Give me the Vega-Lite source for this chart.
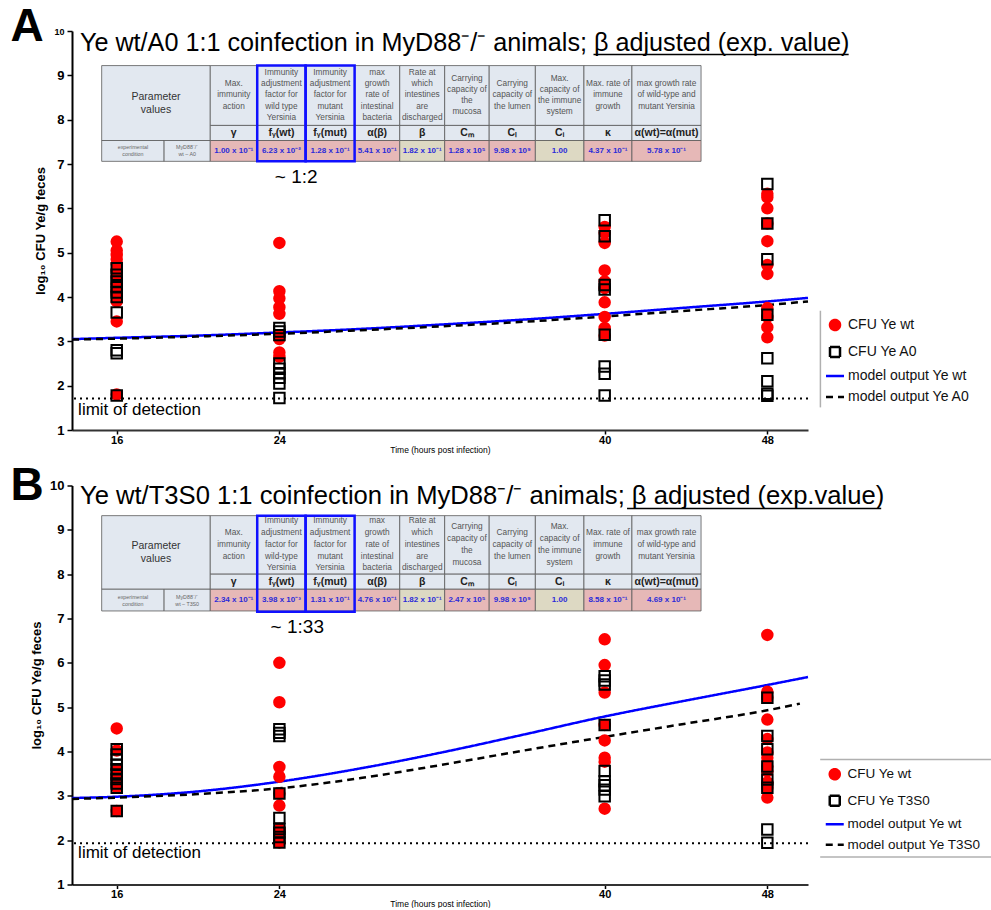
{
"$schema": "https://vega.github.io/schema/vega-lite/v6.json",
"background": "white",
"padding": {"left": 10, "top": 3, "right": 0, "bottom": 0},
"spacing": 8.5,
"datasets": {
"tableA": [
{"row":"param","c0":15.26,"c1":20.6,"cx":17.93,"r0":7.53,"r1":9.22,"cy":8.522,"kind":"hdr","txt":"Parameter|values"},
{"row":"cond","c0":15.26,"c1":18.33,"cx":16.795,"r0":7.06,"r1":7.53,"cy":7.374,"kind":"hdr","txt":"experimental|condition"},
{"row":"cond","c0":18.33,"c1":20.6,"cx":19.465,"r0":7.06,"r1":7.53,"cy":7.374,"kind":"hdr","txt":"MyD88⁻/⁻|wt – A0"},
{"row":"head","c0":20.6,"c1":22.91,"cx":21.755,"r0":7.87,"r1":9.22,"cy":8.8,"kind":"hdr","txt":"Max.|immunity|action"},
{"row":"head","c0":22.91,"c1":25.29,"cx":24.1,"r0":7.87,"r1":9.22,"cy":9.055,"kind":"hdr","txt":"Immunity|adjustment|factor for|wild type|Yersinia"},
{"row":"head","c0":25.29,"c1":27.7,"cx":26.495,"r0":7.87,"r1":9.22,"cy":9.055,"kind":"hdr","txt":"Immunity|adjustment|factor for|mutant|Yersinia"},
{"row":"head","c0":27.7,"c1":29.92,"cx":28.81,"r0":7.87,"r1":9.22,"cy":9.055,"kind":"hdr","txt":"max|growth|rate of|intestinal|bacteria"},
{"row":"head","c0":29.92,"c1":32.13,"cx":31.025,"r0":7.87,"r1":9.22,"cy":9.055,"kind":"hdr","txt":"Rate at|which|intestines|are|discharged"},
{"row":"head","c0":32.13,"c1":34.32,"cx":33.225,"r0":7.87,"r1":9.22,"cy":8.928,"kind":"hdr","txt":"Carrying|capacity of|the|mucosa"},
{"row":"head","c0":34.32,"c1":36.59,"cx":35.455,"r0":7.87,"r1":9.22,"cy":8.8,"kind":"hdr","txt":"Carrying|capacity of|the lumen"},
{"row":"head","c0":36.59,"c1":38.98,"cx":37.785,"r0":7.87,"r1":9.22,"cy":8.928,"kind":"hdr","txt":"Max.|capacity of|the immune|system"},
{"row":"head","c0":38.98,"c1":41.34,"cx":40.16,"r0":7.87,"r1":9.22,"cy":8.8,"kind":"hdr","txt":"Max. rate of|immune|growth"},
{"row":"head","c0":41.34,"c1":44.74,"cx":43.04,"r0":7.87,"r1":9.22,"cy":8.8,"kind":"hdr","txt":"max growth rate|of wild-type and|mutant Yersinia"},
{"row":"sym","c0":20.6,"c1":22.91,"cx":21.755,"r0":7.53,"r1":7.87,"cy":7.7,"kind":"hdr","txt":"γ"},
{"row":"sym","c0":22.91,"c1":25.29,"cx":24.1,"r0":7.53,"r1":7.87,"cy":7.7,"kind":"hdr","txt":"fᵧ(wt)"},
{"row":"sym","c0":25.29,"c1":27.7,"cx":26.495,"r0":7.53,"r1":7.87,"cy":7.7,"kind":"hdr","txt":"fᵧ(mut)"},
{"row":"sym","c0":27.7,"c1":29.92,"cx":28.81,"r0":7.53,"r1":7.87,"cy":7.7,"kind":"hdr","txt":"α(β)"},
{"row":"sym","c0":29.92,"c1":32.13,"cx":31.025,"r0":7.53,"r1":7.87,"cy":7.7,"kind":"hdr","txt":"β"},
{"row":"sym","c0":32.13,"c1":34.32,"cx":33.225,"r0":7.53,"r1":7.87,"cy":7.7,"kind":"hdr","txt":"Cₘ"},
{"row":"sym","c0":34.32,"c1":36.59,"cx":35.455,"r0":7.53,"r1":7.87,"cy":7.7,"kind":"hdr","txt":"Cₗ"},
{"row":"sym","c0":36.59,"c1":38.98,"cx":37.785,"r0":7.53,"r1":7.87,"cy":7.7,"kind":"hdr","txt":"Cᵢ"},
{"row":"sym","c0":38.98,"c1":41.34,"cx":40.16,"r0":7.53,"r1":7.87,"cy":7.7,"kind":"hdr","txt":"κ"},
{"row":"sym","c0":41.34,"c1":44.74,"cx":43.04,"r0":7.53,"r1":7.87,"cy":7.7,"kind":"hdr","txt":"α(wt)=α(mut)"},
{"row":"val","c0":20.6,"c1":22.91,"cx":21.755,"r0":7.06,"r1":7.53,"cy":7.295,"kind":"pink","txt":"1.00 x 10⁻¹"},
{"row":"val","c0":22.91,"c1":25.29,"cx":24.1,"r0":7.06,"r1":7.53,"cy":7.295,"kind":"pink","txt":"6.23 x 10⁻²"},
{"row":"val","c0":25.29,"c1":27.7,"cx":26.495,"r0":7.06,"r1":7.53,"cy":7.295,"kind":"pink","txt":"1.28 x 10⁻¹"},
{"row":"val","c0":27.7,"c1":29.92,"cx":28.81,"r0":7.06,"r1":7.53,"cy":7.295,"kind":"pink","txt":"5.41 x 10⁻¹"},
{"row":"val","c0":29.92,"c1":32.13,"cx":31.025,"r0":7.06,"r1":7.53,"cy":7.295,"kind":"beige","txt":"1.82 x 10⁻¹"},
{"row":"val","c0":32.13,"c1":34.32,"cx":33.225,"r0":7.06,"r1":7.53,"cy":7.295,"kind":"pink","txt":"1.28 x 10⁵"},
{"row":"val","c0":34.32,"c1":36.59,"cx":35.455,"r0":7.06,"r1":7.53,"cy":7.295,"kind":"pink","txt":"9.98 x 10⁹"},
{"row":"val","c0":36.59,"c1":38.98,"cx":37.785,"r0":7.06,"r1":7.53,"cy":7.295,"kind":"beige","txt":"1.00"},
{"row":"val","c0":38.98,"c1":41.34,"cx":40.16,"r0":7.06,"r1":7.53,"cy":7.295,"kind":"pink","txt":"4.37 x 10⁻¹"},
{"row":"val","c0":41.34,"c1":44.74,"cx":43.04,"r0":7.06,"r1":7.53,"cy":7.295,"kind":"pink","txt":"5.78 x 10⁻¹"},
{"row":"blue","c0":22.91,"c1":25.29,"r0":7.06,"r1":9.22},
{"row":"blue","c0":25.29,"c1":27.7,"r0":7.06,"r1":9.22}
],
"tableB": [
{"row":"param","c0":15.26,"c1":20.6,"cx":17.93,"r0":7.66,"r1":9.32,"cy":8.637,"kind":"hdr","txt":"Parameter|values"},
{"row":"cond","c0":15.26,"c1":18.33,"cx":16.795,"r0":7.17,"r1":7.66,"cy":7.494,"kind":"hdr","txt":"experimental|condition"},
{"row":"cond","c0":18.33,"c1":20.6,"cx":19.465,"r0":7.17,"r1":7.66,"cy":7.494,"kind":"hdr","txt":"MyD88⁻/⁻|wt – T3S0"},
{"row":"head","c0":20.6,"c1":22.91,"cx":21.755,"r0":8.0,"r1":9.32,"cy":8.926,"kind":"hdr","txt":"Max.|immunity|action"},
{"row":"head","c0":22.91,"c1":25.29,"cx":24.1,"r0":8.0,"r1":9.32,"cy":9.193,"kind":"hdr","txt":"Immunity|adjustment|factor for|wild-type|Yersinia"},
{"row":"head","c0":25.29,"c1":27.7,"cx":26.495,"r0":8.0,"r1":9.32,"cy":9.193,"kind":"hdr","txt":"Immunity|adjustment|factor for|mutant|Yersinia"},
{"row":"head","c0":27.7,"c1":29.92,"cx":28.81,"r0":8.0,"r1":9.32,"cy":9.193,"kind":"hdr","txt":"max|growth|rate of|intestinal|bacteria"},
{"row":"head","c0":29.92,"c1":32.13,"cx":31.025,"r0":8.0,"r1":9.32,"cy":9.193,"kind":"hdr","txt":"Rate at|which|intestines|are|discharged"},
{"row":"head","c0":32.13,"c1":34.32,"cx":33.225,"r0":8.0,"r1":9.32,"cy":9.06,"kind":"hdr","txt":"Carrying|capacity of|the|mucosa"},
{"row":"head","c0":34.32,"c1":36.59,"cx":35.455,"r0":8.0,"r1":9.32,"cy":8.926,"kind":"hdr","txt":"Carrying|capacity of|the lumen"},
{"row":"head","c0":36.59,"c1":38.98,"cx":37.785,"r0":8.0,"r1":9.32,"cy":9.06,"kind":"hdr","txt":"Max.|capacity of|the immune|system"},
{"row":"head","c0":38.98,"c1":41.34,"cx":40.16,"r0":8.0,"r1":9.32,"cy":8.926,"kind":"hdr","txt":"Max. rate of|immune|growth"},
{"row":"head","c0":41.34,"c1":44.74,"cx":43.04,"r0":8.0,"r1":9.32,"cy":8.926,"kind":"hdr","txt":"max growth rate|of wild-type and|mutant Yersinia"},
{"row":"sym","c0":20.6,"c1":22.91,"cx":21.755,"r0":7.66,"r1":8.0,"cy":7.83,"kind":"hdr","txt":"γ"},
{"row":"sym","c0":22.91,"c1":25.29,"cx":24.1,"r0":7.66,"r1":8.0,"cy":7.83,"kind":"hdr","txt":"fᵧ(wt)"},
{"row":"sym","c0":25.29,"c1":27.7,"cx":26.495,"r0":7.66,"r1":8.0,"cy":7.83,"kind":"hdr","txt":"fᵧ(mut)"},
{"row":"sym","c0":27.7,"c1":29.92,"cx":28.81,"r0":7.66,"r1":8.0,"cy":7.83,"kind":"hdr","txt":"α(β)"},
{"row":"sym","c0":29.92,"c1":32.13,"cx":31.025,"r0":7.66,"r1":8.0,"cy":7.83,"kind":"hdr","txt":"β"},
{"row":"sym","c0":32.13,"c1":34.32,"cx":33.225,"r0":7.66,"r1":8.0,"cy":7.83,"kind":"hdr","txt":"Cₘ"},
{"row":"sym","c0":34.32,"c1":36.59,"cx":35.455,"r0":7.66,"r1":8.0,"cy":7.83,"kind":"hdr","txt":"Cₗ"},
{"row":"sym","c0":36.59,"c1":38.98,"cx":37.785,"r0":7.66,"r1":8.0,"cy":7.83,"kind":"hdr","txt":"Cᵢ"},
{"row":"sym","c0":38.98,"c1":41.34,"cx":40.16,"r0":7.66,"r1":8.0,"cy":7.83,"kind":"hdr","txt":"κ"},
{"row":"sym","c0":41.34,"c1":44.74,"cx":43.04,"r0":7.66,"r1":8.0,"cy":7.83,"kind":"hdr","txt":"α(wt)=α(mut)"},
{"row":"val","c0":20.6,"c1":22.91,"cx":21.755,"r0":7.17,"r1":7.66,"cy":7.415,"kind":"pink","txt":"2.34 x 10⁻¹"},
{"row":"val","c0":22.91,"c1":25.29,"cx":24.1,"r0":7.17,"r1":7.66,"cy":7.415,"kind":"pink","txt":"3.98 x 10⁻³"},
{"row":"val","c0":25.29,"c1":27.7,"cx":26.495,"r0":7.17,"r1":7.66,"cy":7.415,"kind":"pink","txt":"1.31 x 10⁻¹"},
{"row":"val","c0":27.7,"c1":29.92,"cx":28.81,"r0":7.17,"r1":7.66,"cy":7.415,"kind":"pink","txt":"4.76 x 10⁻¹"},
{"row":"val","c0":29.92,"c1":32.13,"cx":31.025,"r0":7.17,"r1":7.66,"cy":7.415,"kind":"beige","txt":"1.82 x 10⁻¹"},
{"row":"val","c0":32.13,"c1":34.32,"cx":33.225,"r0":7.17,"r1":7.66,"cy":7.415,"kind":"pink","txt":"2.47 x 10⁵"},
{"row":"val","c0":34.32,"c1":36.59,"cx":35.455,"r0":7.17,"r1":7.66,"cy":7.415,"kind":"pink","txt":"9.98 x 10⁹"},
{"row":"val","c0":36.59,"c1":38.98,"cx":37.785,"r0":7.17,"r1":7.66,"cy":7.415,"kind":"beige","txt":"1.00"},
{"row":"val","c0":38.98,"c1":41.34,"cx":40.16,"r0":7.17,"r1":7.66,"cy":7.415,"kind":"pink","txt":"8.58 x 10⁻¹"},
{"row":"val","c0":41.34,"c1":44.74,"cx":43.04,"r0":7.17,"r1":7.66,"cy":7.415,"kind":"pink","txt":"4.69 x 10⁻¹"},
{"row":"blue","c0":22.91,"c1":25.29,"r0":7.15,"r1":9.32},
{"row":"blue","c0":25.29,"c1":27.7,"r0":7.15,"r1":9.32}
],
"pointsA": [
{"t":16,"v":5.25,"series":"CFU Ye wt"},{"t":16,"v":5.05,"series":"CFU Ye wt"},{"t":16,"v":4.95,"series":"CFU Ye wt"},{"t":16,"v":4.85,"series":"CFU Ye wt"},{"t":16,"v":4.75,"series":"CFU Ye wt"},{"t":16,"v":4.6,"series":"CFU Ye wt"},{"t":16,"v":4.45,"series":"CFU Ye wt"},{"t":16,"v":4.3,"series":"CFU Ye wt"},{"t":16,"v":4.15,"series":"CFU Ye wt"},{"t":16,"v":4.05,"series":"CFU Ye wt"},{"t":16,"v":3.9,"series":"CFU Ye wt"},{"t":16,"v":3.45,"series":"CFU Ye wt"},{"t":16,"v":1.8,"series":"CFU Ye wt"},
{"t":24,"v":5.22,"series":"CFU Ye wt"},{"t":24,"v":4.13,"series":"CFU Ye wt"},{"t":24,"v":3.97,"series":"CFU Ye wt"},{"t":24,"v":3.77,"series":"CFU Ye wt"},{"t":24,"v":3.62,"series":"CFU Ye wt"},{"t":24,"v":3.12,"series":"CFU Ye wt"},{"t":24,"v":3.05,"series":"CFU Ye wt"},{"t":24,"v":2.75,"series":"CFU Ye wt"},{"t":24,"v":2.65,"series":"CFU Ye wt"},
{"t":40,"v":5.58,"series":"CFU Ye wt"},{"t":40,"v":5.45,"series":"CFU Ye wt"},{"t":40,"v":5.22,"series":"CFU Ye wt"},{"t":40,"v":4.6,"series":"CFU Ye wt"},{"t":40,"v":4.35,"series":"CFU Ye wt"},{"t":40,"v":4.2,"series":"CFU Ye wt"},{"t":40,"v":3.88,"series":"CFU Ye wt"},{"t":40,"v":3.55,"series":"CFU Ye wt"},{"t":40,"v":3.3,"series":"CFU Ye wt"},{"t":40,"v":3.13,"series":"CFU Ye wt"},
{"t":48,"v":6.33,"series":"CFU Ye wt"},{"t":48,"v":6.25,"series":"CFU Ye wt"},{"t":48,"v":6.0,"series":"CFU Ye wt"},{"t":48,"v":5.66,"series":"CFU Ye wt"},{"t":48,"v":5.26,"series":"CFU Ye wt"},{"t":48,"v":4.72,"series":"CFU Ye wt"},{"t":48,"v":4.52,"series":"CFU Ye wt"},{"t":48,"v":3.75,"series":"CFU Ye wt"},{"t":48,"v":3.55,"series":"CFU Ye wt"},{"t":48,"v":3.32,"series":"CFU Ye wt"},{"t":48,"v":3.09,"series":"CFU Ye wt"},
{"t":16,"v":4.65,"series":"CFU Ye A0"},{"t":16,"v":4.5,"series":"CFU Ye A0"},{"t":16,"v":4.35,"series":"CFU Ye A0"},{"t":16,"v":4.22,"series":"CFU Ye A0"},{"t":16,"v":4.1,"series":"CFU Ye A0"},{"t":16,"v":4.0,"series":"CFU Ye A0"},{"t":16,"v":3.65,"series":"CFU Ye A0"},{"t":16,"v":2.8,"series":"CFU Ye A0"},{"t":16,"v":2.73,"series":"CFU Ye A0"},{"t":16,"v":1.78,"series":"CFU Ye A0"},
{"t":24,"v":3.3,"series":"CFU Ye A0"},{"t":24,"v":3.22,"series":"CFU Ye A0"},{"t":24,"v":3.14,"series":"CFU Ye A0"},{"t":24,"v":2.5,"series":"CFU Ye A0"},{"t":24,"v":2.38,"series":"CFU Ye A0"},{"t":24,"v":2.28,"series":"CFU Ye A0"},{"t":24,"v":2.18,"series":"CFU Ye A0"},{"t":24,"v":2.05,"series":"CFU Ye A0"},{"t":24,"v":1.72,"series":"CFU Ye A0"},
{"t":40,"v":5.73,"series":"CFU Ye A0"},{"t":40,"v":5.37,"series":"CFU Ye A0"},{"t":40,"v":4.27,"series":"CFU Ye A0"},{"t":40,"v":4.17,"series":"CFU Ye A0"},{"t":40,"v":3.15,"series":"CFU Ye A0"},{"t":40,"v":2.43,"series":"CFU Ye A0"},{"t":40,"v":2.27,"series":"CFU Ye A0"},{"t":40,"v":1.78,"series":"CFU Ye A0"},
{"t":48,"v":6.55,"series":"CFU Ye A0"},{"t":48,"v":5.66,"series":"CFU Ye A0"},{"t":48,"v":4.85,"series":"CFU Ye A0"},{"t":48,"v":3.6,"series":"CFU Ye A0"},{"t":48,"v":2.62,"series":"CFU Ye A0"},{"t":48,"v":2.1,"series":"CFU Ye A0"},{"t":48,"v":1.82,"series":"CFU Ye A0"},{"t":48,"v":1.77,"series":"CFU Ye A0"}
],
"pointsB": [
{"t":16,"v":4.52,"series":"CFU Ye wt"},{"t":16,"v":4.02,"series":"CFU Ye wt"},{"t":16,"v":3.6,"series":"CFU Ye wt"},{"t":16,"v":3.45,"series":"CFU Ye wt"},{"t":16,"v":3.38,"series":"CFU Ye wt"},{"t":16,"v":3.2,"series":"CFU Ye wt"},{"t":16,"v":2.66,"series":"CFU Ye wt"},
{"t":24,"v":6.0,"series":"CFU Ye wt"},{"t":24,"v":5.11,"series":"CFU Ye wt"},{"t":24,"v":3.65,"series":"CFU Ye wt"},{"t":24,"v":3.43,"series":"CFU Ye wt"},{"t":24,"v":3.05,"series":"CFU Ye wt"},{"t":24,"v":2.78,"series":"CFU Ye wt"},{"t":24,"v":2.25,"series":"CFU Ye wt"},{"t":24,"v":2.18,"series":"CFU Ye wt"},{"t":24,"v":1.95,"series":"CFU Ye wt"},
{"t":40,"v":6.53,"series":"CFU Ye wt"},{"t":40,"v":5.95,"series":"CFU Ye wt"},{"t":40,"v":5.33,"series":"CFU Ye wt"},{"t":40,"v":4.6,"series":"CFU Ye wt"},{"t":40,"v":4.25,"series":"CFU Ye wt"},{"t":40,"v":3.86,"series":"CFU Ye wt"},{"t":40,"v":3.77,"series":"CFU Ye wt"},{"t":40,"v":2.71,"series":"CFU Ye wt"},
{"t":48,"v":6.63,"series":"CFU Ye wt"},{"t":48,"v":5.35,"series":"CFU Ye wt"},{"t":48,"v":5.22,"series":"CFU Ye wt"},{"t":48,"v":4.72,"series":"CFU Ye wt"},{"t":48,"v":4.28,"series":"CFU Ye wt"},{"t":48,"v":3.98,"series":"CFU Ye wt"},{"t":48,"v":3.86,"series":"CFU Ye wt"},{"t":48,"v":3.66,"series":"CFU Ye wt"},{"t":48,"v":3.55,"series":"CFU Ye wt"},{"t":48,"v":3.3,"series":"CFU Ye wt"},{"t":48,"v":3.18,"series":"CFU Ye wt"},{"t":48,"v":2.96,"series":"CFU Ye wt"},
{"t":16,"v":4.05,"series":"CFU Ye T3S0"},{"t":16,"v":3.93,"series":"CFU Ye T3S0"},{"t":16,"v":3.82,"series":"CFU Ye T3S0"},{"t":16,"v":3.7,"series":"CFU Ye T3S0"},{"t":16,"v":3.6,"series":"CFU Ye T3S0"},{"t":16,"v":3.48,"series":"CFU Ye T3S0"},{"t":16,"v":3.38,"series":"CFU Ye T3S0"},{"t":16,"v":3.28,"series":"CFU Ye T3S0"},{"t":16,"v":3.18,"series":"CFU Ye T3S0"},{"t":16,"v":2.66,"series":"CFU Ye T3S0"},
{"t":24,"v":4.5,"series":"CFU Ye T3S0"},{"t":24,"v":4.42,"series":"CFU Ye T3S0"},{"t":24,"v":4.35,"series":"CFU Ye T3S0"},{"t":24,"v":3.05,"series":"CFU Ye T3S0"},{"t":24,"v":2.5,"series":"CFU Ye T3S0"},{"t":24,"v":2.25,"series":"CFU Ye T3S0"},{"t":24,"v":2.17,"series":"CFU Ye T3S0"},{"t":24,"v":2.07,"series":"CFU Ye T3S0"},{"t":24,"v":1.95,"series":"CFU Ye T3S0"},
{"t":40,"v":5.7,"series":"CFU Ye T3S0"},{"t":40,"v":5.6,"series":"CFU Ye T3S0"},{"t":40,"v":5.51,"series":"CFU Ye T3S0"},{"t":40,"v":4.6,"series":"CFU Ye T3S0"},{"t":40,"v":3.56,"series":"CFU Ye T3S0"},{"t":40,"v":3.33,"series":"CFU Ye T3S0"},{"t":40,"v":3.24,"series":"CFU Ye T3S0"},{"t":40,"v":3.14,"series":"CFU Ye T3S0"},{"t":40,"v":2.99,"series":"CFU Ye T3S0"},
{"t":48,"v":5.21,"series":"CFU Ye T3S0"},{"t":48,"v":4.35,"series":"CFU Ye T3S0"},{"t":48,"v":4.05,"series":"CFU Ye T3S0"},{"t":48,"v":3.66,"series":"CFU Ye T3S0"},{"t":48,"v":3.37,"series":"CFU Ye T3S0"},{"t":48,"v":3.18,"series":"CFU Ye T3S0"},{"t":48,"v":2.24,"series":"CFU Ye T3S0"},{"t":48,"v":1.94,"series":"CFU Ye T3S0"}
],
"modelA": [
{"t":13.8,"v":3.05,"series":"model output Ye wt"},{"t":16,"v":3.08,"series":"model output Ye wt"},{"t":20,"v":3.13,"series":"model output Ye wt"},{"t":24,"v":3.2,"series":"model output Ye wt"},{"t":28,"v":3.28,"series":"model output Ye wt"},{"t":32,"v":3.38,"series":"model output Ye wt"},{"t":36,"v":3.49,"series":"model output Ye wt"},{"t":40,"v":3.62,"series":"model output Ye wt"},{"t":44,"v":3.76,"series":"model output Ye wt"},{"t":48,"v":3.9,"series":"model output Ye wt"},{"t":50,"v":3.98,"series":"model output Ye wt"},
{"t":13.8,"v":3.04,"series":"model output Ye A0"},{"t":16,"v":3.06,"series":"model output Ye A0"},{"t":20,"v":3.11,"series":"model output Ye A0"},{"t":24,"v":3.17,"series":"model output Ye A0"},{"t":28,"v":3.25,"series":"model output Ye A0"},{"t":32,"v":3.34,"series":"model output Ye A0"},{"t":36,"v":3.44,"series":"model output Ye A0"},{"t":40,"v":3.56,"series":"model output Ye A0"},{"t":44,"v":3.69,"series":"model output Ye A0"},{"t":48,"v":3.82,"series":"model output Ye A0"},{"t":50,"v":3.9,"series":"model output Ye A0"}
],
"modelB": [
{"t":13.8,"v":2.95,"series":"model output Ye wt"},{"t":16,"v":2.98,"series":"model output Ye wt"},{"t":20,"v":3.1,"series":"model output Ye wt"},{"t":24,"v":3.32,"series":"model output Ye wt"},{"t":28,"v":3.62,"series":"model output Ye wt"},{"t":32,"v":3.98,"series":"model output Ye wt"},{"t":36,"v":4.38,"series":"model output Ye wt"},{"t":40,"v":4.79,"series":"model output Ye wt"},{"t":44,"v":5.15,"series":"model output Ye wt"},{"t":48,"v":5.5,"series":"model output Ye wt"},{"t":50,"v":5.68,"series":"model output Ye wt"},
{"t":13.8,"v":2.93,"series":"model output Ye T3S0"},{"t":16,"v":2.96,"series":"model output Ye T3S0"},{"t":20,"v":3.04,"series":"model output Ye T3S0"},{"t":24,"v":3.17,"series":"model output Ye T3S0"},{"t":28,"v":3.4,"series":"model output Ye T3S0"},{"t":32,"v":3.7,"series":"model output Ye T3S0"},{"t":36,"v":4.02,"series":"model output Ye T3S0"},{"t":40,"v":4.33,"series":"model output Ye T3S0"},{"t":44,"v":4.63,"series":"model output Ye T3S0"},{"t":48,"v":4.93,"series":"model output Ye T3S0"},{"t":49.6,"v":5.08,"series":"model output Ye T3S0"}
]
},
"vconcat": [
{
"width": 736, "height": 399,
"layer": [
{"data":{"name":"tableA"},"transform":[{"filter":"datum.row !== 'blue'"}],"mark":{"type":"rect","stroke":"#5a5a5a","strokeWidth":0.8},"encoding":{"x":{"field":"c0","type":"quantitative","scale":{"domain":[13.8,50],"nice":false,"zero":false}},"x2":{"field":"c1"},"y":{"field":"r0","type":"quantitative","scale":{"domain":[1,10],"nice":false,"zero":false}},"y2":{"field":"r1"},"fill":{"condition":[{"test":"datum.kind === 'pink'","value":"#e6b8b7"},{"test":"datum.kind === 'beige'","value":"#ddd9c3"}],"value":"#e2e8f0"}}},
{"data":{"name":"tableA"},"transform":[{"filter":"datum.row === 'param'"}],"mark":{"type":"text","fontSize":10.5,"color":"#333","lineBreak":"|","lineHeight":13,"baseline":"middle"},"encoding":{"x":{"field":"cx","type":"quantitative","scale":{"domain":[13.8,50],"nice":false,"zero":false}},"y":{"field":"cy","type":"quantitative","scale":{"domain":[1,10],"nice":false,"zero":false}},"text":{"field":"txt"}}},
{"data":{"name":"tableA"},"transform":[{"filter":"datum.row === 'head'"}],"mark":{"type":"text","fontSize":8.3,"color":"#555","lineBreak":"|","lineHeight":11.3,"baseline":"middle"},"encoding":{"x":{"field":"cx","type":"quantitative","scale":{"domain":[13.8,50],"nice":false,"zero":false}},"y":{"field":"cy","type":"quantitative","scale":{"domain":[1,10],"nice":false,"zero":false}},"text":{"field":"txt"}}},
{"data":{"name":"tableA"},"transform":[{"filter":"datum.row === 'sym'"}],"mark":{"type":"text","fontSize":10.5,"fontWeight":"bold","color":"#222","baseline":"middle"},"encoding":{"x":{"field":"cx","type":"quantitative","scale":{"domain":[13.8,50],"nice":false,"zero":false}},"y":{"field":"cy","type":"quantitative","scale":{"domain":[1,10],"nice":false,"zero":false}},"text":{"field":"txt"}}},
{"data":{"name":"tableA"},"transform":[{"filter":"datum.row === 'val'"}],"mark":{"type":"text","fontSize":8,"fontWeight":"bold","color":"#2b2bd9","baseline":"middle"},"encoding":{"x":{"field":"cx","type":"quantitative","scale":{"domain":[13.8,50],"nice":false,"zero":false}},"y":{"field":"cy","type":"quantitative","scale":{"domain":[1,10],"nice":false,"zero":false}},"text":{"field":"txt"}}},
{"data":{"name":"tableA"},"transform":[{"filter":"datum.row === 'cond'"}],"mark":{"type":"text","fontSize":5.3,"color":"#666","lineBreak":"|","lineHeight":7,"baseline":"middle"},"encoding":{"x":{"field":"cx","type":"quantitative","scale":{"domain":[13.8,50],"nice":false,"zero":false}},"y":{"field":"cy","type":"quantitative","scale":{"domain":[1,10],"nice":false,"zero":false}},"text":{"field":"txt"}}},
{"data":{"name":"tableA"},"transform":[{"filter":"datum.row === 'blue'"}],"mark":{"type":"rect","fill":"transparent","stroke":"#1010ff","strokeWidth":2.5},"encoding":{"x":{"field":"c0","type":"quantitative","scale":{"domain":[13.8,50],"nice":false,"zero":false}},"x2":{"field":"c1"},"y":{"field":"r0","type":"quantitative","scale":{"domain":[1,10],"nice":false,"zero":false}},"y2":{"field":"r1"}}},
{"data":{"values":[{}]},"mark":{"type":"rule","strokeDash":[2,4],"strokeWidth":2,"color":"#000"},"encoding":{"y":{"datum":1.71,"type":"quantitative","scale":{"domain":[1,10],"nice":false,"zero":false}}}},
{"data":{"name":"modelA"},"mark":{"type":"line","strokeWidth":2.5,"interpolate":"monotone"},"encoding":{"x":{"field":"t","type":"quantitative","scale":{"domain":[13.8,50],"nice":false,"zero":false}},"y":{"field":"v","type":"quantitative","scale":{"domain":[1,10],"nice":false,"zero":false}},
"stroke":{"field":"series","type":"nominal","scale":{"domain":["CFU Ye wt","CFU Ye A0","model output Ye wt","model output Ye A0"],"range":["#ff0000","#000000","#0000ff","#000000"]},"legend":{"orient":"none","legendX":756,"legendY":287,"direction":"vertical","title":null,"labelFont":"Liberation Sans","labelFontSize":14,"labelColor":"#111","symbolSize":100,"symbolStrokeWidth":2.5,"rowPadding":7,"labelOffset":6,"symbolFillColor":"transparent"}},
"strokeDash":{"field":"series","type":"nominal","scale":{"domain":["CFU Ye wt","CFU Ye A0","model output Ye wt","model output Ye A0"],"range":[[1,0],[1,0],[1,0],[7,5]]},"legend":{"orient":"none","legendX":756,"legendY":287,"direction":"vertical","title":null,"labelFont":"Liberation Sans","labelFontSize":14,"labelColor":"#111","symbolSize":100,"symbolStrokeWidth":2.5,"rowPadding":7,"labelOffset":6,"symbolFillColor":"transparent"}}}},
{"data":{"name":"pointsA"},"mark":{"type":"point","filled":true,"size":110,"strokeWidth":2,"opacity":1},"encoding":{
"x":{"field":"t","type":"quantitative","scale":{"domain":[13.8,50],"nice":false,"zero":false},"axis":{"values":[16,24,40,48],"title":"Time (hours post infection)"}},
"y":{"field":"v","type":"quantitative","scale":{"domain":[1,10],"nice":false,"zero":false},"axis":{"values":[1,2,3,4,5,6,7,8,9,10],"title":"log₁₀ CFU Ye/g feces","labelFontSize":{"condition":{"test":"datum.value === 10","value":9},"value":13}}},
"fill":{"field":"series","type":"nominal","scale":{"domain":["CFU Ye wt","CFU Ye A0","model output Ye wt","model output Ye A0"],"range":["#ff0000","transparent","transparent","transparent"]},"legend":{"orient":"none","legendX":756,"legendY":287,"direction":"vertical","title":null,"labelFont":"Liberation Sans","labelFontSize":14,"labelColor":"#111","symbolSize":100,"symbolStrokeWidth":2.5,"rowPadding":7,"labelOffset":6,"symbolFillColor":"transparent"}},
"stroke":{"field":"series","type":"nominal","scale":{"domain":["CFU Ye wt","CFU Ye A0","model output Ye wt","model output Ye A0"],"range":["#ff0000","#000000","#0000ff","#000000"]},"legend":{"orient":"none","legendX":756,"legendY":287,"direction":"vertical","title":null,"labelFont":"Liberation Sans","labelFontSize":14,"labelColor":"#111","symbolSize":100,"symbolStrokeWidth":2.5,"rowPadding":7,"labelOffset":6,"symbolFillColor":"transparent"}},
"shape":{"field":"series","type":"nominal","scale":{"domain":["CFU Ye wt","CFU Ye A0","model output Ye wt","model output Ye A0"],"range":["circle","square","M-1.8,0H1.8","M-1.8,0H1.8"]},"legend":{"orient":"none","legendX":756,"legendY":287,"direction":"vertical","title":null,"labelFont":"Liberation Sans","labelFontSize":14,"labelColor":"#111","symbolSize":100,"symbolStrokeWidth":2.5,"rowPadding":7,"labelOffset":6,"symbolFillColor":"transparent"}}}},
{"data":{"values":[{}]},"mark":{"type":"text","text":"Ye wt/A0 1:1 coinfection in MyD88⁻/⁻ animals; β adjusted (exp. value)","align":"left","baseline":"middle","fontSize":25.2,"color":"#000"},"encoding":{"x":{"datum":14.19,"type":"quantitative","scale":{"domain":[13.8,50],"nice":false,"zero":false}},"y":{"datum":9.74,"type":"quantitative","scale":{"domain":[1,10],"nice":false,"zero":false}}}},
{"data":{"values":[{}]},"mark":{"type":"rule","strokeWidth":1.5,"color":"#000"},"encoding":{"x":{"datum":39.45,"type":"quantitative","scale":{"domain":[13.8,50],"nice":false,"zero":false}},"x2":{"datum":52.0},"y":{"datum":9.47,"type":"quantitative","scale":{"domain":[1,10],"nice":false,"zero":false}}}},
{"data":{"values":[{}]},"mark":{"type":"text","text":"A","align":"center","baseline":"middle","fontSize":46,"fontWeight":"bold","color":"#000"},"encoding":{"x":{"datum":11.59,"type":"quantitative","scale":{"domain":[13.8,50],"nice":false,"zero":false}},"y":{"datum":10.1,"type":"quantitative","scale":{"domain":[1,10],"nice":false,"zero":false}}}},
{"data":{"values":[{}]},"mark":{"type":"text","text":"~ 1:2","align":"center","baseline":"middle","fontSize":19,"color":"#000"},"encoding":{"x":{"datum":24.83,"type":"quantitative","scale":{"domain":[13.8,50],"nice":false,"zero":false}},"y":{"datum":6.7,"type":"quantitative","scale":{"domain":[1,10],"nice":false,"zero":false}}}},
{"data":{"values":[{}]},"mark":{"type":"text","text":"limit of detection","align":"left","baseline":"middle","fontSize":17,"color":"#000"},"encoding":{"x":{"datum":14.1,"type":"quantitative","scale":{"domain":[13.8,50],"nice":false,"zero":false}},"y":{"datum":1.46,"type":"quantitative","scale":{"domain":[1,10],"nice":false,"zero":false}}}},
{"data":{"values":[{}]},"mark":{"type":"rule","strokeWidth":1.5,"color":"#b0b0b0"},"encoding":{"x":{"datum":50.61,"type":"quantitative","scale":{"domain":[13.8,50],"nice":false,"zero":false}},"y":{"datum":3.69,"type":"quantitative","scale":{"domain":[1,10],"nice":false,"zero":false}},"y2":{"datum":1.51}}}
]
},
{
"width": 736, "height": 399,
"layer": [
{"data":{"name":"tableB"},"transform":[{"filter":"datum.row !== 'blue'"}],"mark":{"type":"rect","stroke":"#5a5a5a","strokeWidth":0.8},"encoding":{"x":{"field":"c0","type":"quantitative","scale":{"domain":[13.8,50],"nice":false,"zero":false}},"x2":{"field":"c1"},"y":{"field":"r0","type":"quantitative","scale":{"domain":[1,10],"nice":false,"zero":false}},"y2":{"field":"r1"},"fill":{"condition":[{"test":"datum.kind === 'pink'","value":"#e6b8b7"},{"test":"datum.kind === 'beige'","value":"#ddd9c3"}],"value":"#e2e8f0"}}},
{"data":{"name":"tableB"},"transform":[{"filter":"datum.row === 'param'"}],"mark":{"type":"text","fontSize":10.5,"color":"#333","lineBreak":"|","lineHeight":13,"baseline":"middle"},"encoding":{"x":{"field":"cx","type":"quantitative","scale":{"domain":[13.8,50],"nice":false,"zero":false}},"y":{"field":"cy","type":"quantitative","scale":{"domain":[1,10],"nice":false,"zero":false}},"text":{"field":"txt"}}},
{"data":{"name":"tableB"},"transform":[{"filter":"datum.row === 'head'"}],"mark":{"type":"text","fontSize":8.3,"color":"#555","lineBreak":"|","lineHeight":11.8,"baseline":"middle"},"encoding":{"x":{"field":"cx","type":"quantitative","scale":{"domain":[13.8,50],"nice":false,"zero":false}},"y":{"field":"cy","type":"quantitative","scale":{"domain":[1,10],"nice":false,"zero":false}},"text":{"field":"txt"}}},
{"data":{"name":"tableB"},"transform":[{"filter":"datum.row === 'sym'"}],"mark":{"type":"text","fontSize":10.5,"fontWeight":"bold","color":"#222","baseline":"middle"},"encoding":{"x":{"field":"cx","type":"quantitative","scale":{"domain":[13.8,50],"nice":false,"zero":false}},"y":{"field":"cy","type":"quantitative","scale":{"domain":[1,10],"nice":false,"zero":false}},"text":{"field":"txt"}}},
{"data":{"name":"tableB"},"transform":[{"filter":"datum.row === 'val'"}],"mark":{"type":"text","fontSize":8,"fontWeight":"bold","color":"#2b2bd9","baseline":"middle"},"encoding":{"x":{"field":"cx","type":"quantitative","scale":{"domain":[13.8,50],"nice":false,"zero":false}},"y":{"field":"cy","type":"quantitative","scale":{"domain":[1,10],"nice":false,"zero":false}},"text":{"field":"txt"}}},
{"data":{"name":"tableB"},"transform":[{"filter":"datum.row === 'cond'"}],"mark":{"type":"text","fontSize":5.3,"color":"#666","lineBreak":"|","lineHeight":7,"baseline":"middle"},"encoding":{"x":{"field":"cx","type":"quantitative","scale":{"domain":[13.8,50],"nice":false,"zero":false}},"y":{"field":"cy","type":"quantitative","scale":{"domain":[1,10],"nice":false,"zero":false}},"text":{"field":"txt"}}},
{"data":{"name":"tableB"},"transform":[{"filter":"datum.row === 'blue'"}],"mark":{"type":"rect","fill":"transparent","stroke":"#1010ff","strokeWidth":2.5},"encoding":{"x":{"field":"c0","type":"quantitative","scale":{"domain":[13.8,50],"nice":false,"zero":false}},"x2":{"field":"c1"},"y":{"field":"r0","type":"quantitative","scale":{"domain":[1,10],"nice":false,"zero":false}},"y2":{"field":"r1"}}},
{"data":{"values":[{}]},"mark":{"type":"rule","strokeDash":[2,4],"strokeWidth":2,"color":"#000"},"encoding":{"y":{"datum":1.93,"type":"quantitative","scale":{"domain":[1,10],"nice":false,"zero":false}}}},
{"data":{"name":"modelB"},"mark":{"type":"line","strokeWidth":2.5,"interpolate":"monotone"},"encoding":{"x":{"field":"t","type":"quantitative","scale":{"domain":[13.8,50],"nice":false,"zero":false}},"y":{"field":"v","type":"quantitative","scale":{"domain":[1,10],"nice":false,"zero":false}},
"stroke":{"field":"series","type":"nominal","scale":{"domain":["CFU Ye wt","CFU Ye T3S0","model output Ye wt","model output Ye T3S0"],"range":["#ff0000","#000000","#0000ff","#000000"]},"legend":{"orient":"none","legendX":756,"legendY":282,"direction":"vertical","title":null,"labelFont":"Liberation Sans","labelFontSize":13.5,"labelColor":"#111","symbolSize":100,"symbolStrokeWidth":2.5,"rowPadding":5.5,"labelOffset":6,"symbolFillColor":"transparent"}},
"strokeDash":{"field":"series","type":"nominal","scale":{"domain":["CFU Ye wt","CFU Ye T3S0","model output Ye wt","model output Ye T3S0"],"range":[[1,0],[1,0],[1,0],[7,5]]},"legend":{"orient":"none","legendX":756,"legendY":282,"direction":"vertical","title":null,"labelFont":"Liberation Sans","labelFontSize":13.5,"labelColor":"#111","symbolSize":100,"symbolStrokeWidth":2.5,"rowPadding":5.5,"labelOffset":6,"symbolFillColor":"transparent"}}}},
{"data":{"name":"pointsB"},"mark":{"type":"point","filled":true,"size":110,"strokeWidth":2,"opacity":1},"encoding":{
"x":{"field":"t","type":"quantitative","scale":{"domain":[13.8,50],"nice":false,"zero":false},"axis":{"values":[16,24,40,48],"title":"Time (hours post infection)"}},
"y":{"field":"v","type":"quantitative","scale":{"domain":[1,10],"nice":false,"zero":false},"axis":{"values":[1,2,3,4,5,6,7,8,9,10],"title":"log₁₀ CFU Ye/g feces"}},
"fill":{"field":"series","type":"nominal","scale":{"domain":["CFU Ye wt","CFU Ye T3S0","model output Ye wt","model output Ye T3S0"],"range":["#ff0000","transparent","transparent","transparent"]},"legend":{"orient":"none","legendX":756,"legendY":282,"direction":"vertical","title":null,"labelFont":"Liberation Sans","labelFontSize":13.5,"labelColor":"#111","symbolSize":100,"symbolStrokeWidth":2.5,"rowPadding":5.5,"labelOffset":6,"symbolFillColor":"transparent"}},
"stroke":{"field":"series","type":"nominal","scale":{"domain":["CFU Ye wt","CFU Ye T3S0","model output Ye wt","model output Ye T3S0"],"range":["#ff0000","#000000","#0000ff","#000000"]},"legend":{"orient":"none","legendX":756,"legendY":282,"direction":"vertical","title":null,"labelFont":"Liberation Sans","labelFontSize":13.5,"labelColor":"#111","symbolSize":100,"symbolStrokeWidth":2.5,"rowPadding":5.5,"labelOffset":6,"symbolFillColor":"transparent"}},
"shape":{"field":"series","type":"nominal","scale":{"domain":["CFU Ye wt","CFU Ye T3S0","model output Ye wt","model output Ye T3S0"],"range":["circle","square","M-1.8,0H1.8","M-1.8,0H1.8"]},"legend":{"orient":"none","legendX":756,"legendY":282,"direction":"vertical","title":null,"labelFont":"Liberation Sans","labelFontSize":13.5,"labelColor":"#111","symbolSize":100,"symbolStrokeWidth":2.5,"rowPadding":5.5,"labelOffset":6,"symbolFillColor":"transparent"}}}},
{"data":{"values":[{}]},"mark":{"type":"text","text":"Ye wt/T3S0 1:1 coinfection in MyD88⁻/⁻ animals; β adjusted (exp.value)","align":"left","baseline":"middle","fontSize":25.6,"color":"#000"},"encoding":{"x":{"datum":14.19,"type":"quantitative","scale":{"domain":[13.8,50],"nice":false,"zero":false}},"y":{"datum":9.77,"type":"quantitative","scale":{"domain":[1,10],"nice":false,"zero":false}}}},
{"data":{"values":[{}]},"mark":{"type":"rule","strokeWidth":1.5,"color":"#000"},"encoding":{"x":{"datum":41.1,"type":"quantitative","scale":{"domain":[13.8,50],"nice":false,"zero":false}},"x2":{"datum":53.6},"y":{"datum":9.48,"type":"quantitative","scale":{"domain":[1,10],"nice":false,"zero":false}}}},
{"data":{"values":[{}]},"mark":{"type":"text","text":"B","align":"center","baseline":"middle","fontSize":46,"fontWeight":"bold","color":"#000"},"encoding":{"x":{"datum":11.59,"type":"quantitative","scale":{"domain":[13.8,50],"nice":false,"zero":false}},"y":{"datum":10.0,"type":"quantitative","scale":{"domain":[1,10],"nice":false,"zero":false}}}},
{"data":{"values":[{}]},"mark":{"type":"text","text":"~ 1:33","align":"center","baseline":"middle","fontSize":19,"color":"#000"},"encoding":{"x":{"datum":24.88,"type":"quantitative","scale":{"domain":[13.8,50],"nice":false,"zero":false}},"y":{"datum":6.8,"type":"quantitative","scale":{"domain":[1,10],"nice":false,"zero":false}}}},
{"data":{"values":[{}]},"mark":{"type":"text","text":"limit of detection","align":"left","baseline":"middle","fontSize":17,"color":"#000"},"encoding":{"x":{"datum":14.1,"type":"quantitative","scale":{"domain":[13.8,50],"nice":false,"zero":false}},"y":{"datum":1.7,"type":"quantitative","scale":{"domain":[1,10],"nice":false,"zero":false}}}},
{"data":{"values":[{}]},"mark":{"type":"rule","strokeWidth":1.5,"color":"#b0b0b0"},"encoding":{"x":{"datum":50.6,"type":"quantitative","scale":{"domain":[13.8,50],"nice":false,"zero":false}},"x2":{"datum":59.0},"y":{"datum":3.82,"type":"quantitative","scale":{"domain":[1,10],"nice":false,"zero":false}}}},
{"data":{"values":[{}]},"mark":{"type":"rule","strokeWidth":1.5,"color":"#b0b0b0"},"encoding":{"x":{"datum":50.6,"type":"quantitative","scale":{"domain":[13.8,50],"nice":false,"zero":false}},"x2":{"datum":59.0},"y":{"datum":1.62,"type":"quantitative","scale":{"domain":[1,10],"nice":false,"zero":false}}}}
]
}
],
"resolve": {"scale": {"x":"independent","y":"independent","fill":"independent","stroke":"independent","shape":"independent","strokeDash":"independent"}, "legend": {"fill":"independent","stroke":"independent","shape":"independent","strokeDash":"independent"}},
"config": {
"view": {"stroke": null},
"font": "Liberation Sans",
"axis": {"grid": false, "domainColor": "#000", "domainWidth": 2, "tickColor": "#000", "tickWidth": 1.5, "tickSize": 5, "labelFont": "Liberation Sans", "labelFontWeight": "bold", "labelColor": "#000", "titleFont": "Liberation Sans", "titleColor": "#000"},
"axisY": {"labelFontSize": 13, "titleFontSize": 13, "titleFontWeight": "bold", "labelPadding": 3, "titlePadding": 6},
"axisX": {"labelFontSize": 11, "titleFontSize": 8.5, "titleFontWeight": "normal", "labelPadding": 0, "titlePadding": 0, "tickSize": 4, "domainColor": "#333"}
}
}
